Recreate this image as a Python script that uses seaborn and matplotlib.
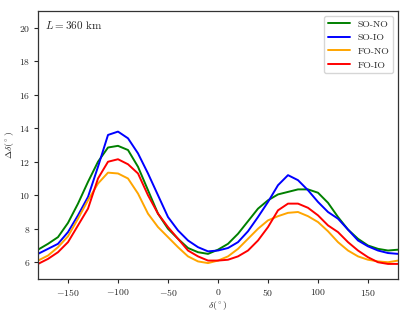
import matplotlib
matplotlib.use('Agg')
import matplotlib.pyplot as plt
import seaborn as sns
import pandas as pd

# sampled read-off of the curves (delta in degrees)
delta = [-180, -170, -160, -150, -140, -130, -120, -110, -100, -90,
         -80, -70, -60, -50, -40, -30, -20, -10, 0, 10,
         20, 30, 40, 50, 60, 70, 80, 90, 100, 110,
         120, 130, 140, 150, 160, 170, 180]

so_no = [6.75, 7.1, 7.5, 8.35, 9.5, 10.8, 12.0, 12.85, 12.95, 12.7,
         11.7, 10.3, 8.9, 8.0, 7.4, 6.85, 6.6, 6.5, 6.75, 7.1,
         7.7, 8.45, 9.2, 9.7, 10.05, 10.2, 10.35, 10.35, 10.15, 9.55,
         8.7, 7.95, 7.4, 7.0, 6.8, 6.7, 6.75]

so_io = [6.5, 6.8, 7.1, 7.8, 8.8, 9.9, 11.7, 13.6, 13.8, 13.4,
         12.5, 11.3, 10.0, 8.7, 7.9, 7.3, 6.9, 6.65, 6.7, 6.85,
         7.2, 7.85, 8.7, 9.6, 10.6, 11.2, 10.9, 10.3, 9.6, 9.0,
         8.6, 7.95, 7.3, 6.95, 6.7, 6.55, 6.5]

fo_no = [6.1, 6.4, 6.9, 7.55, 8.6, 9.7, 10.7, 11.35, 11.3, 11.0,
         10.1, 8.9, 8.1, 7.5, 6.9, 6.35, 6.05, 5.95, 6.1, 6.35,
         6.8, 7.4, 8.0, 8.5, 8.75, 8.95, 9.0, 8.75, 8.4, 7.85,
         7.2, 6.7, 6.35, 6.15, 6.05, 6.0, 6.1]

fo_io = [5.9, 6.2, 6.6, 7.2, 8.2, 9.2, 11.0, 12.0, 12.15, 11.85,
         11.3, 10.0, 8.9, 8.1, 7.4, 6.7, 6.35, 6.1, 6.1, 6.15,
         6.35, 6.7, 7.3, 8.1, 9.1, 9.5, 9.5, 9.25, 8.8, 8.2,
         7.8, 7.2, 6.7, 6.3, 6.0, 5.9, 5.9]

labels = ['SO-NO', 'SO-IO', 'FO-NO', 'FO-IO']
colors = ['green', 'blue', 'orange', 'red']

rows = []
for lab, vals in zip(labels, [so_no, so_io, fo_no, fo_io]):
    for d, v in zip(delta, vals):
        rows.append({'delta': d, 'value': v, 'case': lab})
df = pd.DataFrame(rows)

sns.set_style('ticks')
plt.rcParams['font.family'] = 'serif'
plt.rcParams['font.serif'] = ['cmr10', 'DejaVu Serif']
plt.rcParams['mathtext.fontset'] = 'cm'
plt.rcParams['axes.formatter.use_mathtext'] = True
plt.rcParams['font.size'] = 7

f = plt.figure(figsize=(4.09, 3.16), dpi=100)
ax = f.add_axes([38 / 409, 1 - 279 / 316, 360 / 409, 268 / 316])

sns.lineplot(data=df, x='delta', y='value', hue='case',
             palette=dict(zip(labels, colors)), hue_order=labels,
             linewidth=1.4, ax=ax)

ax.set_xlim(-180, 180)
ax.set_ylim(5, 21)
ax.set_xticks([-150, -100, -50, 0, 50, 100, 150])
ax.set_yticks([6, 8, 10, 12, 14, 16, 18, 20])
ax.tick_params(labelsize=7, length=3, width=0.8, pad=2.5)
ax.set_xlabel(r'$\delta(^\circ)$', fontsize=7, labelpad=1)
ax.set_ylabel(r'$\Delta\delta(^\circ)$', fontsize=7, labelpad=2)
for s in ax.spines.values():
    s.set_visible(True)
    s.set_color('#333333')
    s.set_linewidth(0.9)

ax.text(0.02, 0.97, r'$L = 360$ km', transform=ax.transAxes,
        ha='left', va='top', fontsize=8)
ax.legend(title=None, loc='upper right', fontsize=7, handlelength=2.2,
          frameon=True, fancybox=True, framealpha=0.8, edgecolor='#cccccc')

f.savefig('out.png', dpi=100)
